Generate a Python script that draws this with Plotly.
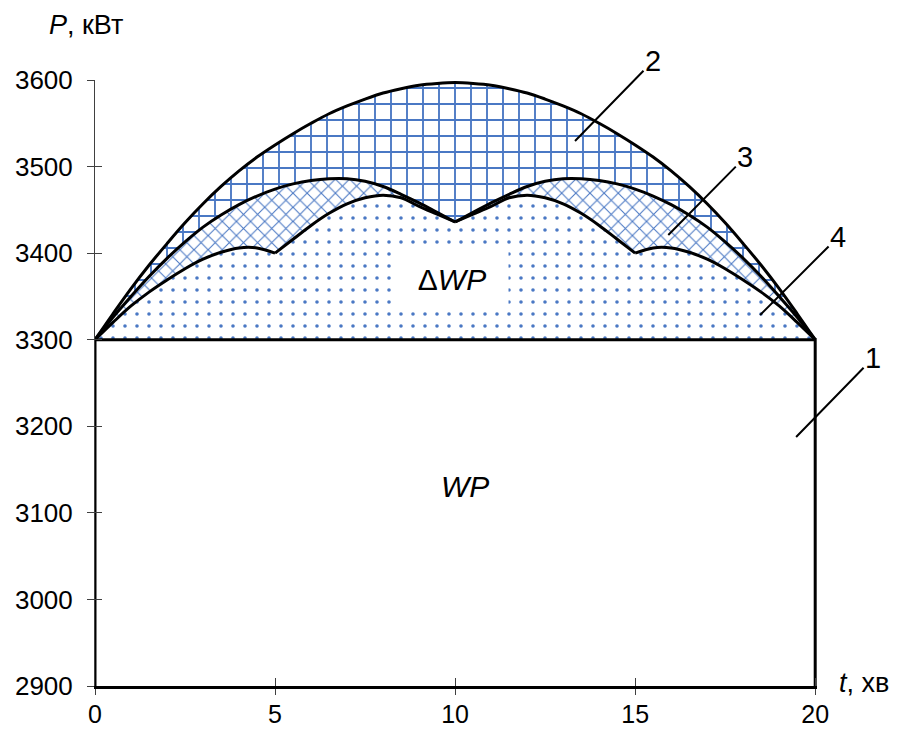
import plotly.graph_objects as go

# ---------------- data ----------------
t = [0, 0.5, 1, 1.5, 2, 2.5, 3, 3.5, 4, 4.5, 5, 5.5, 6, 6.5, 7, 7.5, 8, 8.5, 9, 9.5, 10,
     10.5, 11, 11.5, 12, 12.5, 13, 13.5, 14, 14.5, 15, 15.5, 16, 16.5, 17, 17.5, 18, 18.5, 19, 19.5, 20]

# curve 2
p2 = [3300, 3330, 3359, 3386, 3411, 3435, 3457, 3477, 3495, 3511, 3525, 3538, 3550, 3561, 3570, 3578, 3585, 3590, 3594, 3596, 3597,
      3596, 3594, 3590, 3585, 3578, 3570, 3561, 3550, 3538, 3525, 3511, 3495, 3477, 3457, 3435, 3411, 3386, 3359, 3330, 3300]
# curve 3
p3 = [3300, 3326, 3350, 3373, 3394, 3413, 3430, 3444, 3456, 3466, 3474, 3480, 3484, 3486, 3486, 3483, 3477, 3468, 3458, 3447, 3436,
      3447, 3458, 3468, 3477, 3483, 3486, 3486, 3484, 3480, 3474, 3466, 3456, 3444, 3430, 3413, 3394, 3373, 3350, 3326, 3300]
# curve 4
p4 = [3300, 3320, 3339, 3355, 3369, 3382, 3393, 3401, 3406, 3406, 3400, 3416, 3432, 3446, 3457, 3464, 3467, 3464, 3454, 3445, 3436,
      3445, 3454, 3464, 3467, 3464, 3457, 3446, 3432, 3416, 3400, 3406, 3406, 3401, 3393, 3382, 3369, 3355, 3339, 3320, 3300]
# base power (curve 1)
p_base = 3300
p_min = 2900
t_start, t_end = 0, 20

x_ticks = [0, 5, 10, 15, 20]
y_ticks = [2900, 3000, 3100, 3200, 3300, 3400, 3500, 3600]

# cusp split indices (t = 5, 10, 15)
seg4 = [(0, 10), (10, 20), (20, 30), (30, 40)]
seg3 = [(0, 20), (20, 40)]

# ---------------- style ----------------
FONT = "Liberation Sans, Arial, sans-serif"
BLUE = "#4a78c4"
LW = 3

fig = go.Figure()

# baseline for the fills
fig.add_trace(go.Scatter(x=t, y=[p_base] * len(t), mode="lines",
                         line=dict(width=0, color="rgba(0,0,0,0)"), hoverinfo="skip", showlegend=False))
fig.add_trace(go.Scatter(x=t, y=p4, mode="lines", line=dict(width=0, shape="spline", color="rgba(0,0,0,0)"),
                         fill="tonexty", fillcolor="white",
                         fillpattern=dict(shape=".", size=12, solidity=0.07, fgcolor=BLUE, bgcolor="white", fillmode="replace"),
                         showlegend=False))
fig.add_trace(go.Scatter(x=t, y=p3, mode="lines", line=dict(width=0, shape="spline", color="rgba(0,0,0,0)"),
                         fill="tonexty", fillcolor="white",
                         fillpattern=dict(shape="x", size=10, solidity=0.2, fgcolor=BLUE, bgcolor="white", fillmode="replace"),
                         showlegend=False))
fig.add_trace(go.Scatter(x=t, y=p2, mode="lines", line=dict(width=0, shape="spline", color="rgba(0,0,0,0)"),
                         fill="tonexty", fillcolor="white",
                         fillpattern=dict(shape="+", size=16, solidity=0.22, fgcolor=BLUE, bgcolor="white", fillmode="replace"),
                         showlegend=False))

# outlines
fig.add_trace(go.Scatter(x=t, y=p2, mode="lines", line=dict(width=LW, color="black", shape="spline"), showlegend=False))
for a, b in seg3:
    fig.add_trace(go.Scatter(x=t[a:b + 1], y=p3[a:b + 1], mode="lines",
                             line=dict(width=LW, color="black", shape="spline"), showlegend=False))
for a, b in seg4:
    fig.add_trace(go.Scatter(x=t[a:b + 1], y=p4[a:b + 1], mode="lines",
                             line=dict(width=LW, color="black", shape="spline"), showlegend=False))
# rectangle of base energy (curve 1)
fig.add_trace(go.Scatter(x=[t_start, t_start, t_end, t_end], y=[p_min, p_base, p_base, p_min], mode="lines",
                         line=dict(width=LW, color="black"), showlegend=False))

# dummy trace on overlay axes so inside ticks show
fig.add_trace(go.Scatter(x=[t_start], y=[p_min], xaxis="x2", yaxis="y2", mode="markers",
                         marker=dict(opacity=0), showlegend=False, hoverinfo="skip"))

TICKC = "#404040"
# page body has an 8px margin, so figure is sized/margined to compensate
fig.update_layout(
    width=891, height=721,
    margin=dict(l=87, r=82, t=72, b=43),
    paper_bgcolor="white", plot_bgcolor="white",
    font=dict(family=FONT, size=26, color="black"),
    xaxis=dict(range=[0, 20.05], tickvals=x_ticks, ticktext=[str(v) for v in x_ticks], automargin=False,
               showgrid=False, zeroline=False, showline=True, linecolor="black", linewidth=LW,
               ticks="outside", ticklen=6, tickcolor=TICKC, tickwidth=1,
               tickfont=dict(size=25, family=FONT, color="black"), ticklabelstandoff=-2),
    yaxis=dict(range=[2900, 3600], tickvals=y_ticks, showgrid=False, zeroline=False, automargin=False,
               showline=True, linecolor=TICKC, linewidth=1,
               ticks="outside", ticklen=7, tickcolor=TICKC, tickwidth=1,
               tickfont=dict(size=26, family=FONT, color="black"), ticklabelstandoff=9),
    xaxis2=dict(overlaying="x", range=[0, 20.05], tickvals=x_ticks, showticklabels=False, automargin=False,
                ticks="inside", ticklen=8, tickcolor=TICKC, showgrid=False, zeroline=False, showline=False,
                side="bottom", anchor="y2"),
    yaxis2=dict(overlaying="y", range=[2900, 3600], tickvals=y_ticks, showticklabels=False, automargin=False,
                ticks="inside", ticklen=7, tickcolor=TICKC, showgrid=False, zeroline=False, showline=False,
                side="left", anchor="x2"),
)

ann = []
# axis titles
ann.append(dict(xref="paper", yref="paper", x=-0.0125, y=1.09, text="<i>P</i>, кВт", showarrow=False,
                xanchor="center", yanchor="middle", font=dict(size=27, family=FONT)))
ann.append(dict(xref="paper", yref="paper", x=1.0645, y=0.005, text="<i>t</i>, хв", showarrow=False,
                xanchor="center", yanchor="middle", font=dict(size=27, family=FONT)))
# area labels
ann.append(dict(x=10.28, y=3130, text="<i>WP</i>", showarrow=False, font=dict(size=30, family=FONT)))
ann.append(dict(x=9.92, y=3370, text="Δ<i>WP</i>", showarrow=False, font=dict(size=30, family=FONT),
                bgcolor="white", width=110, height=58))
# numbered leader labels
for lbl, lx, ly, ax, ay in [("2", 13.33, 3529.5, 78, -80), ("3", 15.92, 3421, 77, -78),
                            ("4", 18.47, 3328.6, 78, -78), ("1", 19.47, 3187.6, 77, -79)]:
    ann.append(dict(x=lx, y=ly, text=lbl, showarrow=True, arrowhead=0, arrowwidth=2, arrowcolor="black",
                    ax=ax, ay=ay, font=dict(size=29, family=FONT)))
fig.update_layout(annotations=ann)

fig.write_html("out.html")
